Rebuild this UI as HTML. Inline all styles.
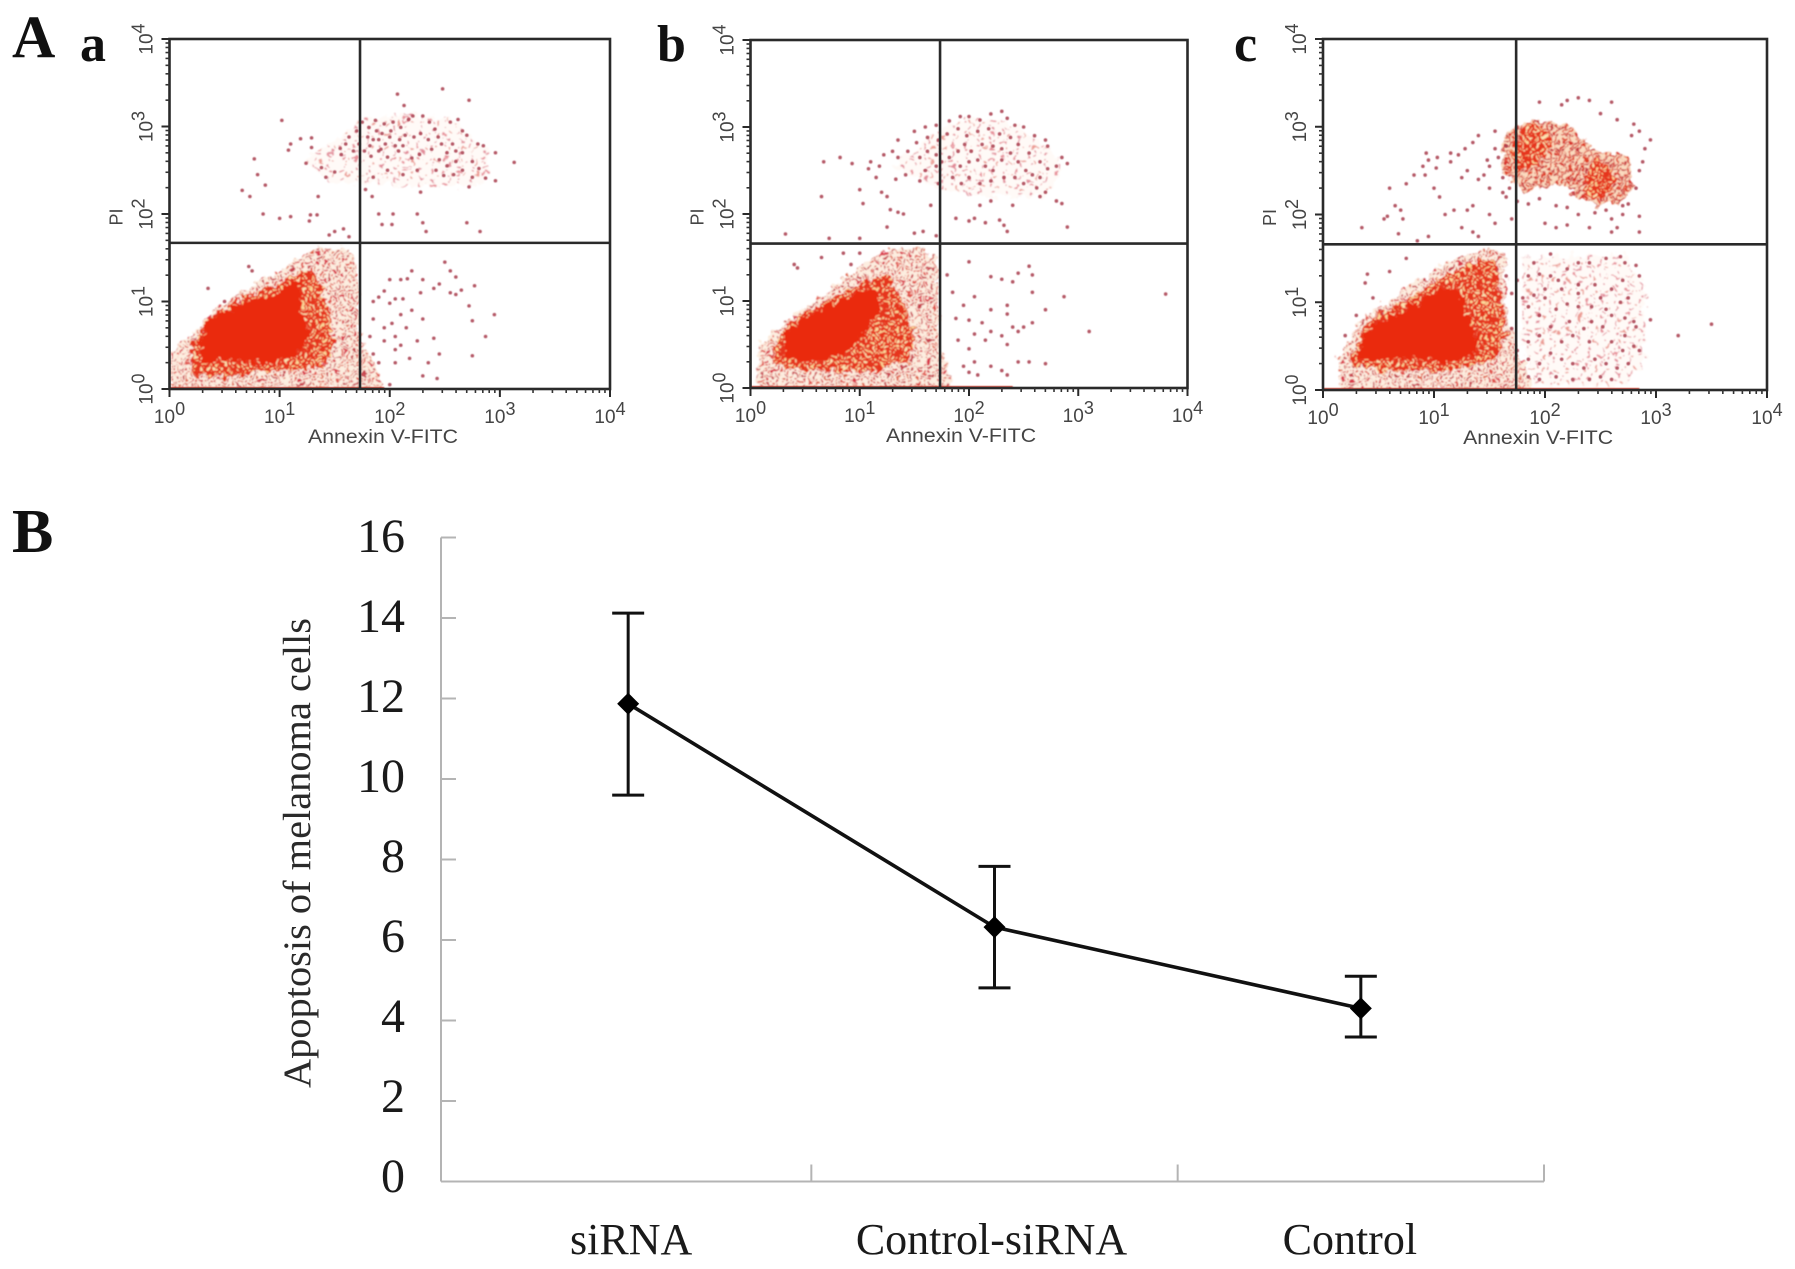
<!DOCTYPE html>
<html>
<head>
<meta charset="utf-8">
<title>Apoptosis of melanoma cells</title>
<style>
html,body{margin:0;padding:0;background:#fff;}
svg{display:block;}
text{font-family:"Liberation Serif",serif;}
.sans text,text.sans,.sans{font-family:"Liberation Sans",sans-serif;}
</style>
</head>
<body>
<svg id="figure" xmlns="http://www.w3.org/2000/svg" width="1795" height="1269" viewBox="0 0 1795 1269">
  <defs>
    <filter id="soft" x="-5%" y="-5%" width="110%" height="110%"><feGaussianBlur stdDeviation="0.6"/></filter>
    <filter id="rough" x="-10%" y="-10%" width="120%" height="120%">
      <feTurbulence type="fractalNoise" baseFrequency="0.13" numOctaves="2" seed="4" result="n"/>
      <feDisplacementMap in="SourceGraphic" in2="n" scale="15" xChannelSelector="R" yChannelSelector="G"/>
      <feGaussianBlur stdDeviation="0.7"/>
    </filter>
    <pattern id="speckle-faint" patternUnits="userSpaceOnUse" width="13" height="13">
      <rect width="13" height="13" fill="#fffaf7"/>
      <circle cx="3" cy="3" r="1.5" fill="#e8909a"/>
      <circle cx="9" cy="6" r="1.4" fill="#ec9c94"/>
      <circle cx="5" cy="10.5" r="1.4" fill="#e28a98"/>
    </pattern>
    <pattern id="speckle-sparse" patternUnits="userSpaceOnUse" width="9" height="9">
      <rect width="9" height="9" fill="#fdeee0"/>
      <circle cx="2" cy="2" r="1.5" fill="#d9394a"/>
      <circle cx="7" cy="3.5" r="1.4" fill="#e0504a"/>
      <circle cx="3.5" cy="7" r="1.4" fill="#c8404c"/>
      <circle cx="8" cy="8" r="1.2" fill="#e0604a"/>
    </pattern>
    <pattern id="speckle-medium" patternUnits="userSpaceOnUse" width="7" height="7">
      <rect width="7" height="7" fill="#fbdcc0"/>
      <circle cx="1.5" cy="1.5" r="1.6" fill="#d8302c"/>
      <circle cx="5" cy="2.8" r="1.5" fill="#c8343c"/>
      <circle cx="2.8" cy="5.5" r="1.5" fill="#e03a20"/>
    </pattern>
    <pattern id="speckle-dense" patternUnits="userSpaceOnUse" width="7" height="7">
      <rect width="7" height="7" fill="#e6341a"/>
      <circle cx="1.5" cy="2" r="1.4" fill="#fbd99a"/>
      <circle cx="5" cy="5.2" r="1.3" fill="#fbe2b0"/>
    </pattern>
  </defs>

  <g font-weight="bold" fill="#111">
    <text x="12" y="57" font-size="60">A</text>
    <text x="80" y="61" font-size="52">a</text>
    <text x="657" y="61" font-size="52">b</text>
    <text x="1234" y="61" font-size="52">c</text>
    <text x="12" y="552" font-size="62">B</text>
  </g>
  <g id="flow-panels"></g>
  <g id="line-chart"></g>
</svg>

<script>
/* ---------- Flow cytometry data: log10(Annexin V-FITC), log10(PI) ---------- */
const decadeTicks = [0, 1, 2, 3, 4];
const minorMultipliers = [2, 3, 4, 5, 6, 7, 8, 9];

const panelAGate = [1.73, 1.67];
const panelBGate = [1.735, 1.66];
const panelCGate = [1.74, 1.66];

const panelAHalo = [[0,0],[0,.42],[.2,.62],[.4,.9],[.7,1.15],[1.0,1.35],[1.3,1.6],[1.6,1.62],[1.72,1.4],[1.72,.6],[1.85,.3],[1.95,0]];
const panelAMid = [[.2,.15],[.2,.5],[.35,.8],[.7,1.08],[1.0,1.2],[1.2,1.38],[1.35,1.3],[1.45,.9],[1.5,.5],[1.4,.25],[1.0,.2],[.6,.15]];
const panelACore = [[.28,.46],[.33,.75],[.54,.92],[.83,1.05],[.98,1.05],[1.06,1.2],[1.2,1.24],[1.18,1.0],[1.27,.61],[1.16,.4],[1.02,.33],[.83,.3],[.54,.35],[.32,.27]];
const panelAUpper = [[1.2,2.6],[1.5,2.85],[1.8,3.1],[2.2,3.15],[2.6,3.05],[2.9,2.7],[2.85,2.35],[2.4,2.3],[1.9,2.35],[1.5,2.35]];

const panelBHalo = [[.08,0],[.08,.5],[.3,.75],[.7,1.1],[1.0,1.4],[1.3,1.6],[1.6,1.6],[1.72,1.4],[1.72,.6],[1.85,0]];
const panelBMid = [[.2,.25],[.22,.5],[.35,.76],[.7,1.0],[1.05,1.25],[1.25,1.3],[1.4,1.0],[1.5,.6],[1.45,.3],[1.1,.2],[.6,.2]];
const panelBCore = [[.31,.53],[.36,.7],[.58,.86],[.89,1.05],[1.09,1.15],[1.17,1.09],[1.2,.88],[1.03,.65],[.9,.44],[.68,.33],[.45,.31],[.33,.36]];
const panelBUpper = [[1.3,2.55],[1.6,2.85],[1.95,3.1],[2.3,3.1],[2.7,2.8],[2.85,2.5],[2.7,2.2],[2.2,2.2],[1.7,2.3]];

const panelCHalo = [[.15,0],[.15,.4],[.35,.8],[.8,1.2],[1.1,1.45],[1.5,1.62],[1.65,1.55],[1.65,.9],[1.75,.5],[1.9,0]];
const panelCMid = [[.25,.28],[.26,.42],[.42,.8],[.75,1.02],[1.05,1.28],[1.3,1.42],[1.56,1.5],[1.6,1.0],[1.65,.6],[1.5,.3],[1.1,.22],[.6,.22]];
const panelCCore = [[.3,.42],[.44,.73],[.75,.92],[1.05,1.13],[1.22,1.17],[1.27,.94],[1.38,.63],[1.38,.42],[1.15,.32],[.89,.35],[.59,.35],[.35,.36]];
const panelCUpperMid = [[1.62,2.85],[1.75,3.0],[1.95,3.08],[2.2,3.02],[2.45,2.75],[2.75,2.65],[2.8,2.35],[2.7,2.15],[2.45,2.1],[2.25,2.25],[2.05,2.35],[1.8,2.25],[1.62,2.5]];
const panelCUpperCoreA = [[1.7,2.75],[1.8,3.0],[2.0,3.0],[2.06,2.78],[1.92,2.56],[1.74,2.5]];
const panelCUpperCoreB = [[2.36,2.42],[2.46,2.62],[2.62,2.52],[2.62,2.28],[2.46,2.16],[2.36,2.26]];
const panelCLowerRight = [[1.8,1.5],[2.7,1.55],[2.9,1.2],[2.9,.3],[2.7,.05],[1.9,.05],[1.78,.6]];

const panelAEdge = [0, 1.95];
const panelBEdge = [0, 2.4];
const panelCEdge = [0, 2.85];

const panelADots = [[2.07,3.37],[2.48,3.43],[2.72,3.30],[1.02,3.07],[2.13,3.24],[3.13,2.59],[2.96,2.70],[2.96,2.38],[2.87,2.41],[2.75,2.42],[2.72,2.31],[.66,2.27],[.73,2.20],[.87,2.33],[.80,2.45],[.77,2.63],[1.08,2.73],[1.10,2.80],[1.19,2.86],[1.29,2.87],[1.29,2.76],[1.24,2.58],[1.38,2.53],[1.42,2.42],[1.50,2.48],[1.56,2.68],[1.60,2.80],[1.63,2.88],[1.70,2.95],[1.75,3.05],[1.81,2.99],[1.87,3.07],[1.95,3.03],[2.03,3.05],[2.10,2.99],[2.17,3.08],[2.21,3.12],[2.30,3.12],[2.36,3.05],[2.41,2.97],[2.55,3.05],[2.62,3.08],[2.66,2.95],[2.70,2.90],[2.80,2.80],[2.85,2.78],[2.57,2.80],[2.47,2.80],[2.38,2.74],[2.27,2.68],[2.20,2.64],[2.08,2.72],[1.98,2.65],[1.90,2.85],[1.82,2.78],[1.77,2.72],[1.83,2.66],[1.92,2.74],[2.00,2.88],[2.09,2.85],[2.14,2.90],[2.01,2.95],[1.93,2.92],[1.85,2.85],[1.72,2.80],[1.67,2.72],[1.55,2.75],[2.45,2.62],[2.52,2.55],[2.60,2.60],[2.66,2.50],[2.58,2.45],[2.49,2.44],[2.42,2.50],[2.75,2.60],[2.81,2.52],[2.66,2.70],[2.25,2.50],[2.12,2.45],[1.98,2.50],[1.85,2.42],[1.78,2.28],[1.84,2.20],[1.90,2.72],[1.96,2.80],[2.05,2.78],[2.12,2.78],[1.88,2.95],[1.80,2.88],[2.22,2.88],[2.28,2.92],[2.35,2.85],[2.44,2.88],[2.52,2.70],[2.6,2.72],[.85,2.00],[1.00,1.95],[1.10,1.97],[1.28,1.99],[1.34,1.99],[1.27,1.92],[1.50,1.80],[1.45,1.76],[1.58,1.83],[1.63,1.74],[1.90,2.00],[1.93,1.88],[2.02,1.88],[2.03,2.00],[2.25,2.00],[2.30,1.90],[2.33,1.80],[2.70,1.90],[2.82,1.80],[1.35,2.20],[2.28,2.25],[1.9,1.05],[1.95,1.12],[2.0,.98],[2.05,1.03],[2.12,1.03],[2.2,.9],[2.3,.8],[2.28,1.1],[2.4,1.15],[2.45,1.2],[2.55,1.1],[2.6,1.08],[2.65,1.13],[2.77,1.18],[2.72,.95],[2.75,.78],[2.95,.85],[2.87,.6],[2.75,.38],[2.45,.4],[2.35,.3],[2.4,.58],[2.25,.55],[2.1,.5],[2.05,.45],[1.95,.7],[1.85,.8],[2.05,.3],[2.3,.15],[2.43,.12],[2.0,.05],[1.85,.4],[2.02,.75],[2.15,.7],[2.18,.35],[2.0,1.25],[2.5,1.45],[2.6,1.28],[2.55,1.35],[2.3,1.25],[2.1,1.25],[2.16,1.26],[2.2,1.35],[1.85,1.0],[1.82,.6],[1.9,.3],[1.95,.55],[2.05,.6],[2.1,.85],[.35,1.15],[.5,1.0],[.75,1.35],[.72,1.4]];

const panelBDots = [[1.35,2.85],[1.5,2.95],[1.6,3.0],[1.7,3.02],[1.82,3.07],[1.92,3.12],[2.0,3.12],[2.1,3.08],[2.2,3.15],[2.3,3.18],[2.35,3.1],[2.42,3.02],[2.5,3.0],[2.6,2.9],[2.7,2.85],[2.72,2.78],[2.85,2.65],[2.9,2.58],[2.8,2.55],[2.72,2.52],[2.65,2.6],[2.55,2.7],[2.45,2.8],[2.38,2.88],[2.28,2.92],[2.18,2.98],[2.08,2.95],[1.98,2.9],[1.9,2.98],[1.8,2.92],[1.72,2.85],[1.62,2.88],[1.52,2.82],[1.44,2.72],[1.35,2.65],[1.3,2.72],[1.55,2.65],[1.62,2.72],[1.7,2.68],[1.75,2.6],[1.82,2.65],[1.9,2.72],[1.96,2.8],[2.02,2.72],[2.08,2.62],[2.15,2.55],[2.22,2.5],[2.3,2.62],[2.38,2.7],[2.45,2.6],[2.52,2.5],[2.42,2.42],[2.32,2.42],[2.2,2.38],[2.1,2.35],[2.0,2.42],[1.93,2.35],[1.85,2.42],[1.72,2.35],[1.55,2.38],[1.42,2.45],[1.33,2.4],[2.58,2.45],[2.65,2.42],[2.62,2.3],[2.7,2.25],[2.65,2.2],[2.8,2.15],[2.85,2.12],[1.7,2.55],[1.6,2.5],[1.92,2.55],[2.0,2.6],[2.12,2.8],[2.22,2.78],[2.3,2.75],[2.5,2.35],[.67,2.6],[.82,2.65],[.93,2.58],[1.08,2.52],[1.1,2.6],[1.18,2.55],[1.22,2.68],[1.15,2.42],[1.0,2.28],[1.2,2.25],[1.25,2.2],[.65,2.2],[1.03,2.12],[1.28,2.05],[1.35,2.02],[1.4,2.0],[1.65,2.1],[1.88,1.95],[2.0,1.92],[2.05,1.95],[2.15,1.9],[2.28,1.93],[2.32,1.87],[2.35,1.8],[2.9,1.85],[2.4,2.1],[2.1,2.1],[2.2,2.15],[1.25,1.85],[1.5,1.78],[1.58,1.8],[1.7,1.75],[.32,1.77],[.72,1.72],[1.0,1.72],[.65,1.5],[.4,1.42],[.43,1.38],[.92,1.42],[.85,1.55],[1.0,1.55],[1.8,1.3],[2.0,1.45],[2.2,1.28],[2.3,1.25],[2.4,1.22],[2.45,1.32],[2.55,1.4],[2.58,1.3],[2.58,1.1],[2.87,1.05],[3.1,.65],[3.8,1.08],[2.7,.9],[2.35,.95],[2.2,.9],[2.35,.85],[2.4,.7],[2.45,.65],[2.5,.7],[2.58,.75],[2.2,.65],[2.3,.6],[2.35,.5],[2.15,.55],[2.05,.62],[2.0,.45],[2.05,.3],[1.95,.25],[2.0,.18],[2.2,.25],[2.3,.2],[2.45,.3],[2.55,.3],[2.7,.28],[1.9,.55],[1.88,.8],[1.95,.95],[2.05,1.05],[2.0,.78],[1.85,1.1],[2.12,.75],[2.35,.15],[2.08,.15]];

const panelCDots = [[1.95,3.28],[2.15,3.25],[2.2,3.3],[2.3,3.33],[2.4,3.3],[2.6,3.28],[2.5,3.15],[2.65,3.08],[2.8,3.03],[2.85,2.95],[2.95,2.85],[2.78,2.9],[1.55,2.95],[1.4,2.9],[1.35,2.82],[1.22,2.68],[1.28,2.75],[1.15,2.7],[1.03,2.65],[1.15,2.6],[.95,2.62],[1.02,2.53],[.93,2.7],[.9,2.55],[.92,2.45],[.82,2.45],[.75,2.35],[1.0,2.3],[1.05,2.2],[.6,2.3],[.65,2.1],[.7,2.05],[.55,1.95],[.72,1.95],[.35,1.85],[.58,1.98],[1.1,2.0],[1.18,2.05],[1.3,2.05],[1.35,2.1],[1.5,2.0],[1.55,1.9],[1.7,1.95],[1.62,2.25],[1.65,2.2],[1.5,2.3],[1.45,2.45],[1.5,2.55],[1.4,2.4],[1.3,2.5],[1.25,2.42],[2.0,1.9],[2.1,1.85],[2.2,1.88],[2.4,1.85],[2.6,1.95],[2.65,1.85],[2.6,1.8],[2.85,1.98],[2.85,1.8],[2.7,2.0],[.68,1.78],[.95,1.75],[1.25,1.85],[1.35,1.8],[1.4,1.75],[.85,1.7],[.75,1.5],[.6,1.35],[.4,1.32],[.38,1.22],[.45,1.05],[.2,.62],[.3,.85],[1.65,1.3],[1.75,1.25],[1.85,1.3],[1.95,1.32],[2.05,1.3],[2.2,1.38],[2.3,1.45],[2.4,1.45],[2.55,1.5],[2.68,1.52],[2.72,1.45],[2.82,1.42],[2.85,1.3],[2.7,1.25],[2.6,1.15],[2.45,1.2],[2.3,1.2],[2.15,1.15],[2.0,1.15],[1.9,1.08],[1.85,.95],[1.95,.85],[2.1,.92],[2.2,.98],[2.3,.95],[2.42,.95],[2.55,.92],[2.68,1.0],[2.75,1.05],[2.72,.82],[2.82,.72],[2.72,.62],[2.8,.5],[2.85,.45],[2.7,.45],[2.6,.55],[2.52,.72],[2.42,.78],[2.35,.7],[2.25,.62],[2.15,.55],[2.05,.72],[1.95,.62],[1.85,.55],[1.85,.35],[1.95,.3],[2.05,.42],[2.15,.35],[2.25,.3],[2.35,.25],[2.45,.35],[2.55,.3],[2.5,.15],[2.6,.12],[2.4,.12],[2.25,.12],[2.1,.15],[1.95,.12],[1.85,.15],[2.65,.25],[2.75,.3],[1.9,1.45],[2.05,1.55],[2.3,1.1],[2.5,1.05],[2.4,.55],[2.6,.85],[2.0,1.05],[2.12,1.25],[2.22,.78],[3.2,.62],[3.5,.75],[2.95,.8],[2.8,.78],[1.7,.7],[1.75,.45],[1.8,1.05],[1.7,1.1],[2.9,2.75],[2.88,2.6],[2.85,2.5],[2.82,2.3],[2.75,2.12],[2.7,2.1],[2.55,2.05],[2.45,2.02],[2.3,2.0],[2.2,2.08],[2.1,2.1],[1.95,2.18],[1.85,2.12],[1.75,2.15],[1.68,2.3],[1.62,2.42],[1.58,2.65],[1.65,2.78],[1.55,2.75],[1.48,2.62]];

/* ---------- Line chart data ---------- */
const categories = ['siRNA', 'Control-siRNA', 'Control'];
const apoptosisMeans = [11.87, 6.32, 4.3];
const errorUpper = [14.12, 7.83, 5.1];
const errorLower = [9.6, 4.81, 3.59];
const yTickValues = [0, 2, 4, 6, 8, 10, 12, 14, 16];

/* ---------- Helpers ---------- */
const NS = 'http://www.w3.org/2000/svg';
function make(tag, parent, attrs) {
  const el = document.createElementNS(NS, tag);
  for (const k in attrs) el.setAttribute(k, attrs[k]);
  parent.appendChild(el);
  return el;
}

function drawRegion(g, pts, sx, sy, fill, name) {
  const el = make('polygon', g, { points: pts.map(p => sx(p[0]) + ',' + sy(p[1])).join(' '), fill: fill });
  
  
  return el;
}

function drawPowerLabel(parent, exp, x, y, rotate, name) {
  const attrs = { x: x, y: y, 'font-size': 19, fill: '#444', 'text-anchor': 'middle', 'class': 'sans' };
  if (rotate) attrs.transform = 'rotate(-90 ' + x + ' ' + y + ')';
  const t = make('text', parent, attrs);
  
  
  t.textContent = '10';
  const sup = make('tspan', t, { dy: -8, 'font-size': 18 });
  sup.textContent = String(exp);
}

function drawFlowPanel(cfg) {
  const root = document.getElementById('flow-panels');
  const g = make('g', root, {});
  
  
  const sx = v => cfg.left + (v / 4) * (cfg.right - cfg.left);
  const sy = v => cfg.bottom - (v / 4) * (cfg.bottom - cfg.top);

  const clipId = 'clip-' + cfg.name;
  const clip = make('clipPath', g, { id: clipId });
  make('rect', clip, { x: cfg.left, y: cfg.top, width: cfg.right - cfg.left, height: cfg.bottom - cfg.top });

  const clipped = make('g', g, { 'clip-path': 'url(#' + clipId + ')' });
  const cloud = make('g', clipped, { filter: 'url(#rough)' });
  
  
  (cfg.under || []).forEach(r => drawRegion(cloud, r[0], sx, sy, r[1], r[2]));
  drawRegion(cloud, cfg.halo, sx, sy, 'url(#speckle-sparse)', 'low-density-region');
  drawRegion(cloud, cfg.mid, sx, sy, 'url(#speckle-dense)', 'mid-density-region');
  drawRegion(cloud, cfg.core, sx, sy, '#ea2a08', 'dense-core-region');
  (cfg.extra || []).forEach(r => drawRegion(cloud, r[0], sx, sy, r[1], r[2]));

  const dots = make('g', clipped, { filter: 'url(#soft)' });
  
  
  cfg.dots.forEach(p => {
    const d = make('circle', dots, { cx: sx(p[0]), cy: sy(p[1]), r: 1.8, fill: '#a83c4c', opacity: 0.85 });
    
    
  });

  const edge = make('line', dots, { x1: sx(cfg.edge[0]), x2: sx(cfg.edge[1]), y1: sy(0) - 1, y2: sy(0) - 1, stroke: '#d8382c', 'stroke-width': 2 });
  
  

  const frame = make('rect', g, { x: cfg.left, y: cfg.top, width: cfg.right - cfg.left, height: cfg.bottom - cfg.top, fill: 'none', stroke: '#2a2a2a', 'stroke-width': 2.6 });
  
  

  const gv = make('line', g, { x1: sx(cfg.gate[0]), x2: sx(cfg.gate[0]), y1: cfg.top, y2: cfg.bottom, stroke: '#2a2a2a', 'stroke-width': 2.6 });
  
  
  const gh = make('line', g, { x1: cfg.left, x2: cfg.right, y1: sy(cfg.gate[1]), y2: sy(cfg.gate[1]), stroke: '#2a2a2a', 'stroke-width': 2.6 });
  
  

  decadeTicks.forEach(d => {
    const tx = make('line', g, { x1: sx(d), x2: sx(d), y1: cfg.bottom, y2: cfg.bottom + 8, stroke: '#2a2a2a', 'stroke-width': 2 });
    
    
    const ty = make('line', g, { x1: cfg.left - 8, x2: cfg.left, y1: sy(d), y2: sy(d), stroke: '#2a2a2a', 'stroke-width': 2 });
    
    
    drawPowerLabel(g, d, sx(d), cfg.bottom + 34, false, 'x-tick-label');
    drawPowerLabel(g, d, cfg.left - 17, sy(d), true, 'y-tick-label');
    if (d < 4) {
      minorMultipliers.forEach(m => {
        const v = d + Math.log10(m);
        const mx = make('line', g, { x1: sx(v), x2: sx(v), y1: cfg.bottom, y2: cfg.bottom + 4, stroke: '#333', 'stroke-width': 1.6 });
        
        
        const my = make('line', g, { x1: cfg.left - 4, x2: cfg.left, y1: sy(v), y2: sy(v), stroke: '#333', 'stroke-width': 1.6 });
        
        
      });
    }
  });

  const xt = make('text', g, { x: sx(cfg.gate[0]) + cfg.xTitleShift, y: cfg.bottom + 54, 'font-size': 19, fill: '#444', 'text-anchor': 'middle', 'class': 'sans', textLength: 150, lengthAdjust: 'spacingAndGlyphs' });
  
  
  xt.textContent = 'Annexin V-FITC';

  const yx = cfg.left - 47, yy = sy(2) + 3;
  const yt = make('text', g, { x: yx, y: yy, 'font-size': 18, fill: '#444', 'text-anchor': 'middle', 'class': 'sans', transform: 'rotate(-90 ' + yx + ' ' + yy + ')' });
  
  
  yt.textContent = 'PI';
}

drawFlowPanel({ name: 'flow-panel-a', left: 169.5, right: 610, top: 39, bottom: 389, gate: panelAGate, halo: panelAHalo, mid: panelAMid, core: panelACore, dots: panelADots, edge: panelAEdge, xTitleShift: 23,
  under: [[panelAUpper, 'url(#speckle-faint)', 'upper-faint-region']] });
drawFlowPanel({ name: 'flow-panel-b', left: 750.5, right: 1187.5, top: 40, bottom: 388, gate: panelBGate, halo: panelBHalo, mid: panelBMid, core: panelBCore, dots: panelBDots, edge: panelBEdge, xTitleShift: 21,
  under: [[panelBUpper, 'url(#speckle-faint)', 'upper-faint-region']] });
drawFlowPanel({ name: 'flow-panel-c', left: 1323, right: 1767, top: 39, bottom: 390, gate: panelCGate, halo: panelCHalo, mid: panelCMid, core: panelCCore, dots: panelCDots, edge: panelCEdge, xTitleShift: 22,
  under: [[panelCLowerRight, 'url(#speckle-faint)', 'lower-right-faint-region']],
  extra: [[panelCUpperMid, 'url(#speckle-medium)', 'upper-density-region'], [panelCUpperCoreA, 'url(#speckle-dense)', 'upper-core-left'], [panelCUpperCoreB, 'url(#speckle-dense)', 'upper-core-right']] });

/* ---------- Line chart ---------- */
(function () {
  const root = document.getElementById('line-chart');
  const plotLeft = 441, bandLeft = 445, plotRight = 1544, plotBottom = 1181.5, plotTop = 537.5;
  const yMax = 16;
  const sy = v => plotBottom - (v / yMax) * (plotBottom - plotTop);
  const labelY = v => 537 + (yMax - v) * 40;
  const band = (plotRight - bandLeft) / categories.length;
  const sx = i => bandLeft + band * (i + 0.5);
  const labelShift = [3, -3, -11];

  const yAxis = make('line', root, { x1: plotLeft, x2: plotLeft, y1: plotTop, y2: plotBottom, stroke: '#b4b4b4', 'stroke-width': 2 });
  
  
  const xAxis = make('line', root, { x1: plotLeft, x2: plotRight, y1: plotBottom, y2: plotBottom, stroke: '#b4b4b4', 'stroke-width': 2 });
  
  

  yTickValues.forEach(v => {
    if (v > 0) {
      const t = make('line', root, { x1: plotLeft, x2: plotLeft + 15, y1: sy(v), y2: sy(v), stroke: '#b4b4b4', 'stroke-width': 2 });
      
      
    }
    const l = make('text', root, { x: 405, y: labelY(v) + 15, 'font-size': 48, fill: '#1a1a1a', 'text-anchor': 'end' });
    
    
    l.textContent = String(v);
  });

  categories.forEach((c, i) => {
    const tx = bandLeft + band * (i + 1);
    const t = make('line', root, { x1: tx, x2: tx, y1: plotBottom - 17, y2: plotBottom, stroke: '#b4b4b4', 'stroke-width': 2 });
    
    
    const l = make('text', root, { x: sx(i) + labelShift[i], y: 1254, 'font-size': 44, fill: '#1a1a1a', 'text-anchor': 'middle' });
    
    
    l.textContent = c;
  });

  const ax = 310, ay = 853;
  const title = make('text', root, { x: ax, y: ay, 'font-size': 39, fill: '#2a2a2a', 'text-anchor': 'middle', transform: 'rotate(-90 ' + ax + ' ' + ay + ')', textLength: 470, lengthAdjust: 'spacingAndGlyphs' });
  
  
  title.textContent = 'Apoptosis of melanoma cells';

  const line = make('polyline', root, { points: apoptosisMeans.map((v, i) => sx(i) + ',' + sy(v)).join(' '), fill: 'none', stroke: '#111', 'stroke-width': 3.6 });
  
  

  apoptosisMeans.forEach((v, i) => {
    const x = sx(i), up = sy(errorUpper[i]), lo = sy(errorLower[i]), y = sy(v);
    const bar = make('path', root, { d: 'M' + (x - 16) + ' ' + up + 'H' + (x + 16) + 'M' + x + ' ' + up + 'V' + lo + 'M' + (x - 16) + ' ' + lo + 'H' + (x + 16), fill: 'none', stroke: '#111', 'stroke-width': 3 });
    
    
    const m = make('polygon', root, { points: [[x, y - 11], [x + 11, y], [x, y + 11], [x - 11, y]].map(p => p.join(',')).join(' '), fill: '#000' });
    
    
  });
})();
</script>
</body>
</html>
